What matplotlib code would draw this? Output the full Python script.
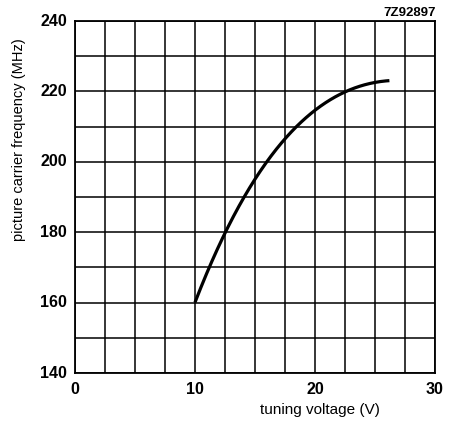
import numpy as np
import matplotlib
matplotlib.use("Agg")
import matplotlib.pyplot as plt

# data
voltage = [10.0, 12.5, 15.0, 17.5, 20.0, 22.5, 25.0, 26.2]
frequency = [160.0, 180.0, 194.7, 206.7, 214.7, 219.8, 222.5, 223.1]

x_ticks = [0, 10, 20, 30]
y_ticks = [140, 160, 180, 200, 220, 240]
code_label = "7Z92897"
x_label = "tuning voltage (V)"
y_label = "picture carrier frequency (MHz)"

fig = plt.figure(figsize=(4.56, 4.25), dpi=100)
ax = fig.add_axes([75/456, 52/425, 360/456, 352/425])

# smooth curve through the read points (least-squares polynomial)
xs = np.array(voltage)
ys = np.array(frequency)
coef = np.polyfit(xs, ys, 4)
xn = np.linspace(xs[0], xs[-1], 400)
ax.plot(xn, np.polyval(coef, xn), color="black", lw=2.3, solid_capstyle="butt", zorder=3)

ax.set_xlim(0, 30)
ax.set_ylim(140, 240)
ax.set_xticks(np.arange(0, 30.01, 2.5))
ax.set_yticks(np.arange(140, 240.01, 10))
ax.grid(True, color="black", lw=1.1)
ax.tick_params(length=0, labelbottom=False, labelleft=False)
for s in ax.spines.values():
    s.set_linewidth(1.3)

fnt = dict(family="Liberation Sans", fontweight="bold", fontsize=11.5)
for xv in x_ticks:
    ax.text(xv, 135.4, str(xv), ha="center", va="center", **fnt)
for yv in y_ticks:
    ax.text(-0.65, yv, str(yv), ha="right", va="center", **fnt)

ax.text(30.1, 240.6, code_label, ha="right", va="bottom", family="Liberation Sans",
        fontweight="bold", fontsize=9.5)
ax.text(20.4, 129.6, x_label, ha="center", va="center",
        family="Liberation Sans", fontsize=11)
fig.text(19/456, 1-140/425, y_label, rotation=90,
         ha="center", va="center", family="Liberation Sans", fontsize=10.5)

fig.savefig("out.png", dpi=100)
